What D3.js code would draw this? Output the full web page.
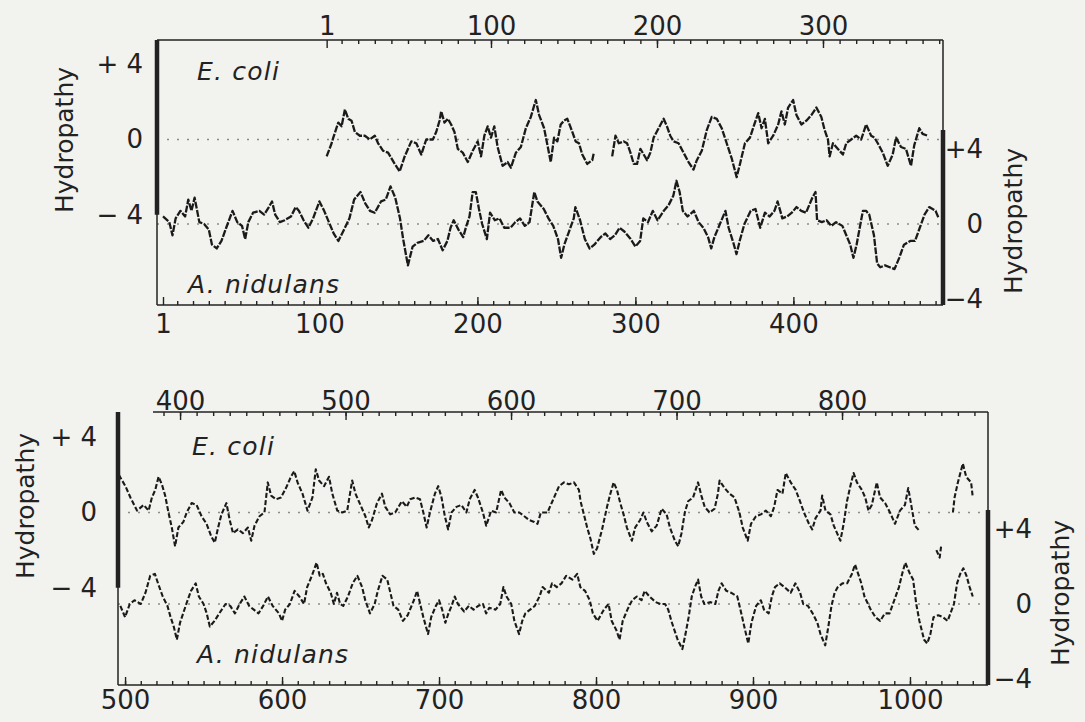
<!DOCTYPE html>
<html>
<head>
<meta charset="utf-8">
<script src="https://cdn.jsdelivr.net/npm/d3@7"></script>
<style>
  html, body { margin: 0; padding: 0; background: #f2f2ef; }
  svg { display: block; }
</style>
</head>
<body>
<svg id="chart" width="1085" height="722"></svg>
<script>
// Hydropathy profiles: [residue number, hydropathy]; null marks a break in the trace.
const ecoliTop = [[1,-0.9],[4,-0.2],[5,0.1],[8,0.9],[10,0.7],[12,1.6],[14,1.1],[16,1.0],[18,0.4],[21,0.2],[24,0.2],[27,0.0],[30,0.2],[32,-0.2],[35,-0.6],[38,-0.7],[42,-1.3],[45,-1.7],[48,-0.9],[52,-0.1],[55,-0.2],[58,-0.8],[61,0.0],[65,0.0],[67,0.4],[69,1.0],[70,1.5],[72,0.9],[74,1.1],[76,0.8],[78,0.4],[80,-0.5],[83,-0.7],[86,-1.2],[89,-0.6],[92,-0.1],[94,-0.9],[96,0.2],[98,0.7],[100,0.1],[102,0.7],[104,-0.4],[107,-1.4],[110,-1.2],[112,-1.5],[115,-0.7],[118,-0.4],[121,0.6],[124,1.2],[127,2.1],[129,1.3],[132,0.6],[134,-0.3],[136,-1.2],[138,0.1],[140,-0.1],[142,0.8],[144,1.0],[146,1.1],[149,0.4],[151,-0.1],[153,-0.2],[155,-0.8],[158,-1.3],[161,-1.1],[162,-0.7],[167,null],[173,-0.9],[175,0.2],[177,-0.2],[180,-0.1],[182,-0.2],[184,-0.7],[186,-1.3],[188,-1.3],[190,-0.5],[192,-0.8],[194,-1.1],[196,-0.7],[198,0.1],[201,0.6],[204,1.1],[206,0.7],[208,0.2],[210,-0.1],[213,-0.2],[216,-0.7],[219,-1.2],[222,-1.6],[224,-1.1],[227,-0.6],[230,0.5],[233,1.2],[236,1.1],[239,0.6],[242,-0.2],[245,-1.0],[248,-2.0],[250,-1.3],[253,-0.2],[256,0.1],[259,0.9],[261,1.4],[263,0.6],[265,1.1],[267,-0.2],[270,0.2],[273,0.8],[275,1.5],[277,0.8],[279,1.7],[282,2.1],[284,1.3],[287,0.8],[290,1.0],[293,1.3],[296,1.7],[299,1.2],[301,0.5],[303,0.0],[304,-0.9],[306,-0.2],[309,-0.5],[312,-0.8],[314,-0.2],[317,0.0],[320,0.2],[323,0.0],[326,0.8],[329,0.2],[331,0.1],[333,-0.2],[336,-0.7],[339,-1.4],[342,-0.8],[344,0.1],[347,-0.4],[350,-0.5],[353,-1.4],[355,-0.3],[358,0.6],[360,0.3],[363,0.2]];

const anidTop = [[1,0.4],[5,0.1],[7,-0.6],[9,0.3],[12,0.7],[15,0.4],[17,1.3],[19,0.7],[21,1.4],[24,0.1],[27,0.0],[30,-0.3],[32,-1.1],[35,-1.3],[38,-0.9],[41,-0.2],[45,0.7],[48,0.1],[51,-0.1],[53,-0.8],[55,0.1],[58,0.6],[62,0.7],[65,0.5],[68,0.9],[70,1.2],[72,0.5],[75,0.1],[78,0.2],[82,0.4],[85,0.9],[87,0.7],[90,0.2],[93,-0.2],[96,0.3],[100,1.2],[103,0.7],[106,0.1],[109,-0.5],[112,-0.9],[115,-0.4],[119,0.3],[122,1.3],[124,1.5],[126,1.7],[129,1.1],[132,0.7],[135,0.6],[139,1.2],[142,1.3],[145,2.0],[148,1.4],[151,0.3],[153,-0.8],[156,-2.2],[159,-1.2],[162,-1.0],[166,-0.9],[169,-0.6],[172,-0.9],[175,-0.8],[178,-1.4],[181,-0.9],[183,-0.2],[185,0.2],[188,-0.3],[191,-0.7],[193,-0.1],[195,0.4],[197,1.7],[199,1.7],[201,0.8],[203,0.0],[206,-0.8],[208,0.6],[211,0.2],[214,0.3],[217,-0.2],[221,-0.2],[224,0.1],[227,0.3],[230,-0.1],[233,0.1],[236,1.7],[238,1.2],[242,0.8],[245,0.3],[248,-0.1],[251,-0.8],[253,-1.8],[255,-1.1],[258,-0.4],[261,0.3],[262,0.9],[265,0.2],[268,-0.8],[271,-1.3],[274,-1.1],[278,-0.7],[281,-0.5],[284,-0.8],[287,-0.6],[290,-0.2],[293,-0.4],[297,-0.8],[300,-1.2],[303,-0.9],[305,0.3],[308,0.1],[311,0.7],[314,0.2],[318,0.7],[321,1.0],[324,1.5],[326,2.3],[328,1.7],[330,0.7],[333,0.4],[337,0.7],[340,0.1],[343,-0.2],[346,-0.7],[348,-1.3],[350,-0.7],[354,0.1],[357,0.7],[359,-0.2],[362,-1.0],[364,-1.6],[366,-0.9],[369,0.0],[373,0.7],[376,0.8],[379,-0.2],[382,0.6],[385,0.4],[388,0.7],[390,1.2],[393,0.3],[396,0.4],[399,0.6],[402,0.9],[405,0.7],[408,0.6],[412,1.4],[414,1.7],[415,0.2],[418,0.1],[421,0.2],[424,-0.1],[427,0.1],[431,-0.1],[434,-0.7],[436,-1.1],[438,-1.8],[440,-1.1],[442,-0.2],[444,0.7],[446,0.7],[448,0.5],[451,-0.6],[453,-2.1],[455,-2.3],[458,-2.2],[461,-2.3],[464,-2.4],[467,-1.8],[470,-1.1],[474,-0.9],[477,-0.9],[480,-0.2],[483,0.5],[486,0.9],[490,0.7],[492,0.3]];

const ecoliBottom = [[363,2.0],[367,1.4],[370,0.8],[374,0.1],[378,0.4],[381,0.1],[383,0.8],[385,1.2],[387,1.9],[389,1.5],[391,0.9],[393,0.0],[395,-0.8],[397,-1.8],[399,-0.8],[402,-0.5],[404,0.0],[407,0.5],[410,0.4],[413,-0.2],[416,-0.6],[419,-1.3],[421,-1.6],[423,-0.8],[425,-0.1],[428,0.5],[430,-0.4],[432,-1.1],[435,-0.9],[438,-1.1],[441,-0.8],[443,-1.5],[445,-0.7],[448,-0.2],[451,0.0],[453,1.6],[455,0.9],[458,0.7],[461,0.8],[464,1.3],[467,1.9],[469,2.2],[471,1.6],[474,1.0],[477,0.1],[480,0.8],[482,2.3],[484,1.7],[487,1.4],[490,1.9],[492,1.0],[495,0.1],[498,0.0],[501,0.1],[504,1.7],[506,1.0],[509,0.4],[512,-0.2],[514,-0.8],[516,-0.4],[519,0.5],[522,1.0],[524,0.3],[527,-0.1],[530,0.0],[534,0.6],[537,0.3],[539,0.7],[542,0.8],[545,0.7],[547,0.0],[549,-0.8],[551,0.0],[554,1.0],[556,1.4],[558,0.8],[560,-0.2],[562,-0.9],[564,0.0],[567,0.3],[570,0.4],[573,0.0],[575,0.7],[578,1.2],[580,0.8],[583,0.0],[585,-0.7],[588,0.1],[591,0.0],[594,1.2],[596,0.8],[599,0.5],[602,0.0],[605,0.0],[608,-0.2],[611,-0.4],[614,-0.5],[616,-0.6],[618,0.0],[622,0.0],[625,0.6],[627,1.0],[629,1.4],[632,1.6],[635,1.5],[638,1.6],[641,1.2],[642,0.6],[644,-0.1],[646,-0.8],[648,-1.4],[650,-2.2],[652,-1.9],[655,-0.9],[658,0.3],[660,1.0],[662,1.6],[664,1.2],[666,0.5],[668,-0.1],[670,-0.8],[673,-1.5],[675,-0.8],[678,-0.4],[680,0.0],[682,-0.5],[685,-1.0],[688,-0.7],[691,0.2],[694,-0.1],[696,-0.8],[699,-1.5],[701,-1.8],[703,-1.1],[705,0.0],[707,0.6],[710,0.8],[713,1.6],[715,0.9],[717,0.3],[720,0.0],[723,0.2],[725,1.0],[726,1.7],[729,1.3],[732,1.0],[735,0.8],[738,0.0],[740,-0.8],[743,-1.5],[745,-0.6],[748,-0.2],[751,-0.1],[754,0.1],[757,-0.2],[759,0.3],[761,1.2],[764,1.0],[766,2.1],[769,1.6],[772,1.2],[775,0.5],[777,0.0],[780,-0.6],[782,-0.9],[784,-0.3],[787,0.1],[788,0.9],[790,0.1],[793,-0.1],[795,-0.7],[797,-1.1],[799,-1.5],[801,-0.6],[803,0.6],[805,1.4],[807,2.1],[809,1.6],[812,1.2],[814,0.8],[816,0.1],[818,0.4],[821,1.6],[823,0.8],[826,0.5],[829,0.0],[832,-0.6],[835,0.1],[838,0.4],[840,1.3],[842,0.3],[844,-0.7],[847,-1.0],[852,null],[857,-2.0],[859,-2.4],[860,-1.7],[863,null],[867,0.0],[868,0.8],[870,1.6],[873,2.6],[875,1.9],[878,1.6],[879,0.8]];

const anidBottom = [[497,-0.1],[500,-0.7],[503,0.0],[506,0.2],[510,0.0],[513,0.6],[516,1.5],[519,1.6],[521,1.1],[524,0.4],[527,-0.1],[529,-0.7],[531,-1.2],[533,-1.9],[535,-1.0],[537,-0.5],[539,0.0],[542,0.7],[545,1.1],[547,0.4],[550,0.0],[552,-0.5],[554,-1.2],[557,-0.9],[560,-0.5],[564,0.0],[567,-0.1],[570,-0.5],[573,0.0],[576,0.4],[579,-0.1],[582,-0.3],[585,-0.5],[588,-0.1],[591,0.4],[594,-0.1],[598,-0.5],[600,-0.9],[602,-0.3],[605,0.0],[608,0.7],[611,0.4],[614,0.0],[616,0.9],[619,1.5],[622,2.2],[624,1.5],[626,1.6],[628,1.1],[631,0.6],[633,0.0],[635,0.6],[637,0.0],[639,-0.1],[642,0.4],[645,1.1],[648,1.5],[651,0.9],[653,0.2],[656,-0.5],[659,0.0],[661,0.7],[664,1.5],[667,1.3],[669,0.6],[671,-0.1],[674,-0.3],[677,-0.9],[680,-0.6],[684,0.2],[686,0.7],[688,0.0],[690,-0.7],[693,-1.6],[695,-0.7],[698,-0.1],[700,0.2],[702,-0.3],[704,-1.0],[706,-0.5],[708,-0.1],[710,0.4],[712,0.0],[716,-0.4],[719,-0.1],[722,-0.3],[725,-0.1],[728,0.0],[730,-0.5],[732,-0.2],[736,-0.3],[739,0.0],[741,0.9],[743,0.4],[746,0.0],[748,-0.9],[751,-1.6],[753,-0.9],[755,-0.5],[758,-0.3],[761,-0.1],[764,0.4],[766,0.9],[770,0.6],[772,1.1],[775,0.9],[778,1.1],[781,1.5],[785,1.3],[788,1.6],[790,0.9],[793,0.7],[796,0.2],[798,-0.5],[801,-0.9],[805,-0.3],[808,0.0],[810,-0.9],[813,-1.4],[815,-1.9],[817,-0.9],[820,-0.3],[823,0.2],[826,0.4],[829,0.2],[831,0.7],[834,0.4],[838,0.1],[841,0.0],[844,0.0],[846,-0.3],[848,-0.9],[850,-1.4],[852,-1.9],[855,-2.4],[857,-1.6],[859,-0.7],[861,0.4],[863,0.9],[865,1.3],[867,0.4],[869,0.0],[873,0.1],[876,0.0],[878,0.7],[880,1.1],[883,0.7],[886,0.6],[890,0.4],[892,-0.3],[895,-1.4],[897,-2.1],[899,-1.0],[902,-0.1],[905,0.2],[907,-0.3],[910,-0.5],[912,0.4],[914,0.9],[917,1.1],[920,0.9],[924,0.6],[927,1.1],[930,0.6],[932,0.0],[935,-0.1],[938,-0.5],[941,-1.0],[943,-1.6],[946,-2.2],[948,-1.2],[950,-0.1],[952,0.6],[954,0.9],[957,1.1],[960,1.1],[963,1.6],[965,2.1],[967,1.6],[969,1.1],[971,0.4],[975,-0.3],[978,-0.7],[981,-0.9],[984,-0.5],[987,-0.5],[990,0.2],[993,0.9],[995,1.6],[997,2.2],[1000,1.6],[1002,1.3],[1004,0.0],[1006,-0.9],[1009,-1.9],[1011,-2.1],[1013,-1.6],[1015,-0.7],[1018,-0.6],[1021,-0.7],[1024,-0.9],[1028,0.0],[1030,1.1],[1032,1.6],[1034,1.9],[1036,1.5],[1038,0.9],[1040,0.4]];

// Residue-number tick labels
const ecoliTopLabels = [1, 100, 200, 300];
const anidTopLabels = [1, 100, 200, 300, 400];
const ecoliBottomLabels = [400, 500, 600, 700, 800];
const anidBottomLabels = [500, 600, 700, 800, 900, 1000];
// Hydropathy scale ticks
const hydroTicks = [4, 0, -4];
const speciesNames = ["E. coli", "A. nidulans"];

// ---- layout ----
const FONT = "'DejaVu Sans', sans-serif";
const INK = "#222";
const UNIT = 18.8; // pixels per hydropathy unit

const panels = [
  {
    box: { l: 157, r: 943, t: 40, b: 305 }, topStart: 157,
    ecDomain: [-101.2, 372.3], anDomain: [-2.8, 494.7],
    ecZero: 139.5, anZero: 224,
    ec: ecoliTop, an: anidTop,
    ecMinor: d3.range(10, 371, 10), anMinor: d3.range(10, 491, 10),
    ecLabels: ecoliTopLabels, anLabels: anidTopLabels,
    topPad: 5, bottomPad: 10,
    leftPad: 14, rightPad: 40,
    hydroLeft: [64, 140], hydroRight: [1013, 221],
    ecName: [197, 80], anName: [188, 293],
    traceWidth: 2.3, traceDash: "7 1.5"
  },
  {
    box: { l: 118, r: 988, t: 412, b: 685 }, topStart: 153,
    ecDomain: [362.5, 888.2], anDomain: [495.5, 1049.7],
    ecZero: 512.5, anZero: 604,
    ec: ecoliBottom, an: anidBottom,
    ecMinor: d3.range(390, 881, 10), anMinor: d3.range(500, 1041, 10),
    ecLabels: ecoliBottomLabels, anLabels: anidBottomLabels,
    topPad: 2, bottomPad: 6,
    leftPad: 21, rightPad: 44,
    hydroLeft: [25, 506], hydroRight: [1060, 593],
    ecName: [192, 455], anName: [197, 663],
    traceWidth: 2.1, traceDash: "5 2.2"
  }
];

const svg = d3.select("#chart");

function styleAxis(sel) {
  sel.attr("font-family", FONT).attr("font-size", 26);
  sel.select(".domain").remove();
  sel.selectAll(".tick line").attr("stroke", INK).attr("stroke-width", 1.4);
  sel.selectAll(".tick text").attr("fill", INK);
}

function drawPanel(p) {
  const g = svg.append("g");
  const { l, r, t, b } = p.box;

  const xEc = d3.scaleLinear().domain(p.ecDomain).range([l, r]);
  const xAn = d3.scaleLinear().domain(p.anDomain).range([l, r]);
  const yEc = d3.scaleLinear().domain([-4, 4]).range([p.ecZero + 4 * UNIT, p.ecZero - 4 * UNIT]);
  const yAn = d3.scaleLinear().domain([-4, 4]).range([p.anZero + 4 * UNIT, p.anZero - 4 * UNIT]);

  // dotted zero reference lines
  [yEc, yAn].forEach(y => {
    g.append("line")
      .attr("x1", l).attr("x2", r).attr("y1", y(0)).attr("y2", y(0))
      .attr("stroke", "#8c8c8a").attr("stroke-width", 1.6)
      .attr("stroke-dasharray", "2 8");
  });

  // hydropathy traces
  const traces = [
    { data: p.ec, x: xEc, y: yEc },
    { data: p.an, x: xAn, y: yAn }
  ];
  traces.forEach(tr => {
    const line = d3.line()
      .defined(d => d[1] !== null)
      .x(d => tr.x(d[0]))
      .y(d => tr.y(d[1]));
    g.append("path")
      .datum(tr.data)
      .attr("d", line)
      .attr("fill", "none")
      .attr("stroke", "#1a1a1a")
      .attr("stroke-width", p.traceWidth)
      .attr("stroke-linejoin", "round")
      .attr("stroke-dasharray", p.traceDash);
  });

  // frame
  const frame = [
    [p.topStart, t, r, t],
    [l, b, r, b],
    [l, t, l, b],
    [r, t, r, b]
  ];
  frame.forEach(([x1, y1, x2, y2]) => {
    g.append("line").attr("x1", x1).attr("y1", y1).attr("x2", x2).attr("y2", y2)
      .attr("stroke", INK).attr("stroke-width", 1.5);
  });
  // heavy scale bars
  g.append("line").attr("x1", l).attr("x2", l).attr("y1", t).attr("y2", yEc(-4))
    .attr("stroke", INK).attr("stroke-width", 4.5);
  g.append("line").attr("x1", r).attr("x2", r).attr("y1", yAn(5)).attr("y2", b)
    .attr("stroke", INK).attr("stroke-width", 4.5);

  // residue axes: E. coli along the top, A. nidulans along the bottom
  g.append("g").attr("transform", `translate(0,${t})`)
    .call(d3.axisTop(xEc).tickValues(p.ecMinor).tickSize(-4).tickFormat(""))
    .call(styleAxis);
  g.append("g").attr("transform", `translate(0,${t})`)
    .call(d3.axisTop(xEc).tickValues(p.ecLabels).tickSize(-8).tickPadding(p.topPad).tickFormat(d3.format("d")))
    .call(styleAxis);
  g.append("g").attr("transform", `translate(0,${b})`)
    .call(d3.axisBottom(xAn).tickValues(p.anMinor).tickSize(-4).tickFormat(""))
    .call(styleAxis);
  g.append("g").attr("transform", `translate(0,${b})`)
    .call(d3.axisBottom(xAn).tickValues(p.anLabels).tickSize(-8).tickPadding(p.bottomPad).tickFormat(d3.format("d")))
    .call(styleAxis);

  // hydropathy axes
  g.append("g").attr("transform", `translate(${l},0)`)
    .call(d3.axisLeft(yEc).tickValues(hydroTicks).tickSize(0).tickPadding(p.leftPad)
      .tickFormat(v => v > 0 ? "+ 4" : v < 0 ? "\u2212 4" : "0"))
    .call(styleAxis);
  g.append("g").attr("transform", `translate(${r},0)`)
    .call(d3.axisRight(yAn).tickValues(hydroTicks).tickSize(0).tickPadding(p.rightPad)
      .tickFormat(v => v > 0 ? "+4" : v < 0 ? "\u22124" : "0"))
    .call(styleAxis)
    .call(s => s.selectAll(".tick text").attr("text-anchor", "end"));

  // axis titles
  [p.hydroLeft, p.hydroRight].forEach(([cx, cy]) => {
    g.append("text")
      .attr("transform", `translate(${cx},${cy}) rotate(-90)`)
      .attr("text-anchor", "middle").attr("dy", "0.35em")
      .attr("font-family", FONT).attr("font-size", 25).attr("fill", INK)
      .text("Hydropathy");
  });

  // species names
  [[speciesNames[0], p.ecName], [speciesNames[1], p.anName]].forEach(([name, [x, y]]) => {
    g.append("text")
      .attr("x", x).attr("y", y)
      .attr("font-family", FONT).attr("font-style", "italic")
      .attr("font-size", 25).attr("letter-spacing", 1.2).attr("fill", INK)
      .text(name);
  });
}

panels.forEach(drawPanel);
</script>
</body>
</html>
